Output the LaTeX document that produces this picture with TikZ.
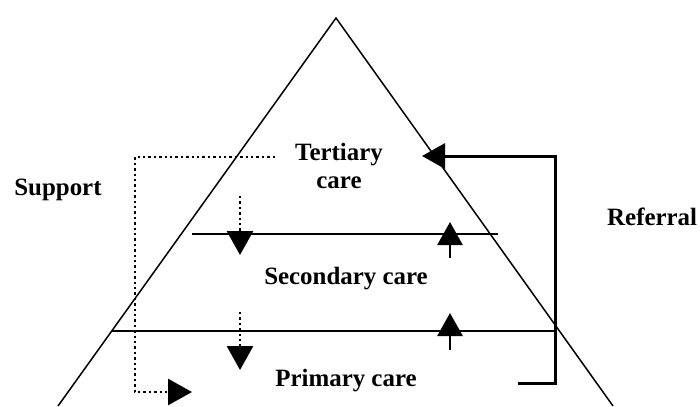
\documentclass[tikz,border=0pt]{standalone}
\usepackage{fontspec}
\setmainfont{Liberation Serif}
\usetikzlibrary{arrows.meta}

\tikzset{
	level/.style={line width=1.5bp},
	flow/.style={line width=2.8bp, -{Triangle[length=23bp,width=25bp]}},
	backing/.style={line width=2.8bp, dash pattern=on 2.4bp off 3bp, -{Triangle[length=24bp,width=26bp]}},
	caption/.style={font=\bfseries\fontsize{25}{28}\selectfont, align=center, inner sep=0pt},
}

\begin{document}
\begin{tikzpicture}[x=1bp,y=-1bp]
			\useasboundingbox (0,0) rectangle (700,406);
			% pyramid
			\coordinate (apex) at (336,18);
			\coordinate (baseL) at (58,406);
			\coordinate (baseR) at (613,406);
			\coordinate (secL) at (192,234);
			\coordinate (secR) at (498,234);
			\coordinate (priL) at (112,331);
			\coordinate (priR) at (556,331);
			\draw[level] (baseL) -- (apex) -- (baseR);
			\draw[level] (secL) -- (secR);
			\draw[level] (priL) -- (priR);
			% labels
			\node[caption] (tert) at (339,166) {Tertiary\\care};
			\node[caption] (sec) at (346,279) {Secondary care};
			\node[caption] (prim) at (346,381) {Primary care};
			\node[caption] (supp) at (58,190) {Support};
			\node[caption, anchor=west] (ref) at (607,217) {Referral};
			% referral
			\coordinate (r1) at (518,383);
			\coordinate (r2) at (555,383);
			\coordinate (r3) at (555,156);
			\coordinate (r4) at (422,156);
			\draw[flow, line width=3bp] (r1) -- (r2) -- (r3) -- (r4);
			\coordinate (u1) at (450,258);
			\coordinate (u2) at (450,222);
			\coordinate (u3) at (450,350);
			\coordinate (u4) at (450,313);
			\draw[flow] (u1) -- (u2);
			\draw[flow] (u3) -- (u4);
			% support
			\coordinate (s1) at (275,157);
			\coordinate (s2) at (135,157);
			\coordinate (s3) at (135,392);
			\coordinate (s4) at (192,392);
			\draw[backing] (s1) -- (s2) -- (s3) -- (s4);
			\coordinate (d1) at (240,196);
			\coordinate (d2) at (240,255);
			\coordinate (d3) at (240,312);
			\coordinate (d4) at (240,370);
			\draw[backing] (d1) -- (d2);
			\draw[backing] (d3) -- (d4);
		\end{tikzpicture}
\end{document}
